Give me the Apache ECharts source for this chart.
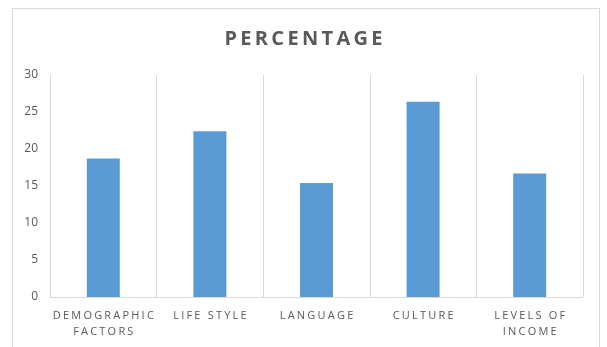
<!DOCTYPE html>
<html><head><meta charset="utf-8">
<script src="https://cdn.jsdelivr.net/npm/echarts@6/dist/echarts.min.js"></script>
<style>html,body{margin:0;padding:0;background:#fff}#c{width:607px;height:347px}
#frame{position:absolute;left:12px;top:8px;width:588px;height:360px;border:1px solid #d9d9d9;box-sizing:border-box;pointer-events:none}</style>
</head><body><div id="c"></div><div id="frame"></div>
<script>
const titleText = 'PERCENTAGE';
const categories = ['DEMOGRAPHIC\nFACTORS', 'LIFE STYLE', 'LANGUAGE', 'CULTURE', 'LEVELS OF\nINCOME'];
const values = [18.7, 22.4, 15.4, 26.4, 16.7];
const yTicks = [0, 5, 10, 15, 20, 25, 30];

const spaced = s => s.split('\n').map(l => l.split('').join('\u200A\u200A')).join('\n');
const chart = echarts.init(document.getElementById('c'));
chart.setOption({
  animation: false,
  title: {
    text: spaced(titleText).replace(/\u200A\u200A/g, '\u2009'),
    left: 'center', top: 24,
    textStyle: {fontFamily: 'Open Sans', fontWeight: 'bold', fontSize: 20, color: '#595959'}
  },
  grid: {left: 50, right: 24, top: 75, bottom: 50, containLabel: false},
  xAxis: {
    type: 'category', data: categories,
    axisLine: {lineStyle: {color: '#d9d9d9'}},
    axisTick: {show: false},
    splitLine: {show: true, lineStyle: {color: '#d9d9d9', width: 1}},
    axisLabel: {
      interval: 0, margin: 11, color: '#595959', fontSize: 11, lineHeight: 16,
      fontFamily: 'Open Sans', formatter: v => spaced(v)
    }
  },
  yAxis: {
    type: 'value', min: yTicks[0], max: yTicks[yTicks.length - 1], interval: 5,
    axisLine: {show: false}, axisTick: {show: false}, splitLine: {show: false},
    axisLabel: {color: '#595959', fontSize: 12, margin: 12, fontFamily: 'Open Sans'}
  },
  series: [{
    type: 'bar', data: values, barWidth: 33,
    itemStyle: {color: '#5b9bd5'}
  }]
});
</script></body></html>
